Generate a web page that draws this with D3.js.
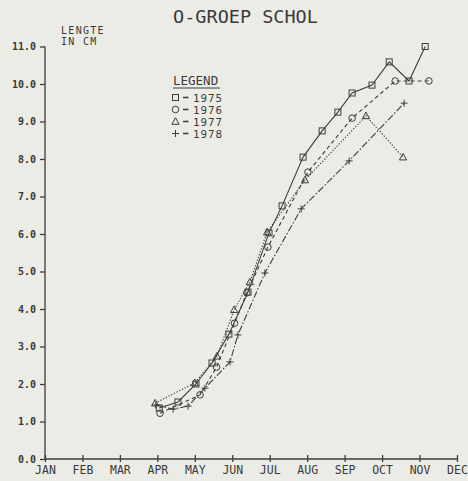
<!DOCTYPE html>
<html><head><meta charset="utf-8">
<script src="https://cdn.jsdelivr.net/npm/d3@7"></script>
<style>
html,body{margin:0;padding:0;background:#ecece6;}
svg{display:block;}
text{font-family:"DejaVu Sans Mono",monospace;fill:#3a3a3a;}
</style></head>
<body>
<script>
const months = ["JAN","FEB","MAR","APR","MAY","JUN","JUL","AUG","SEP","OCT","NOV","DEC"];
const yTicks = [0,1,2,3,4,5,6,7,8,9,10,11];
const years = ["1975","1976","1977","1978"];
// month position (JAN = 0) and length in cm
const m1975 = [3.05,3.55,4.03,4.46,4.91,5.42,5.98,6.33,6.89,7.40,7.82,8.20,8.73,9.19,9.72,10.15];
const v1975 = [1.36,1.52,2.00,2.56,3.33,4.45,6.03,6.75,8.05,8.75,9.25,9.76,9.97,10.59,10.08,11.00];
const m1976 = [3.07,4.14,4.58,5.06,5.39,5.95,7.02,8.20,9.35,10.25];
const v1976 = [1.22,1.71,2.45,3.62,4.43,5.65,7.65,9.09,10.08,10.08];
const m1977 = [2.94,4.00,4.59,5.05,5.47,5.93,6.94,8.57,9.56];
const v1977 = [1.49,2.03,2.74,3.98,4.72,6.05,7.44,9.15,8.05];
const m1978 = [2.96,3.42,3.82,4.27,4.94,5.15,5.87,6.84,8.12,9.59];
const v1978 = [1.44,1.33,1.41,1.89,2.59,3.31,4.96,6.67,7.95,9.49];

const W=468,H=481;
const svg=d3.select("body").append("svg").attr("width",W).attr("height",H);
const x=d3.scaleLinear().domain([0,11]).range([45,457]);
const y=d3.scaleLinear().domain([0,11]).range([459,46.5]);
const ink="#3c3c3c";

// axes
const yAxis=d3.axisLeft(y).tickValues(yTicks).tickSize(5).tickFormat(d=>d.toFixed(1));
const gy=svg.append("g").attr("transform","translate(45,0)").call(yAxis);
gy.select(".domain").attr("stroke",ink).attr("stroke-width",1.3).attr("d","M0,"+y(11)+"V"+y(0));
gy.selectAll(".tick line").attr("stroke",ink).attr("stroke-width",1.3);
gy.selectAll(".tick text").attr("x",-9).attr("font-size",10).attr("font-weight","bold").attr("fill","#444");

const xAxis=d3.axisBottom(x).tickValues(d3.range(12)).tickSize(-4).tickFormat(i=>months[i]);
const gx=svg.append("g").attr("transform","translate(0,459)").call(xAxis);
gx.select(".domain").attr("stroke",ink).attr("stroke-width",1.3).attr("d","M"+x(0)+",0H"+x(11));
gx.selectAll(".tick line").attr("stroke",ink).attr("stroke-width",1.3).attr("y1",3);
gx.selectAll(".tick text").attr("y",7).attr("font-size",11.5).attr("fill","#444");

// titles
svg.append("text").attr("x",245.5).attr("y",23).attr("text-anchor","middle").attr("font-size",18.5).attr("fill","#5a5a5a").text("O-GROEP SCHOL");
svg.append("text").attr("x",61).attr("y",34).attr("font-size",10).attr("letter-spacing",1.3).attr("fill","#444").text("LENGTE");
svg.append("text").attr("x",61).attr("y",45).attr("font-size",10).attr("letter-spacing",1.3).attr("fill","#444").text("IN CM");

// markers
function marker(g,type,cx,cy){
  const s=g.append("g").attr("transform",`translate(${cx},${cy})`).attr("fill","none").attr("stroke",ink).attr("stroke-width",1);
  if(type==="square") s.append("rect").attr("x",-3).attr("y",-3).attr("width",6).attr("height",6);
  else if(type==="circle") s.append("circle").attr("r",3.3);
  else if(type==="triangle") s.append("path").attr("d","M0,-3.8L3.6,2.8L-3.6,2.8Z");
  else s.append("path").attr("d","M-3.5,0H3.5M0,-3.5V3.5");
}

const series=[
  {m:m1975,v:v1975,type:"square",dash:null},
  {m:m1976,v:v1976,type:"circle",dash:"4,3"},
  {m:m1977,v:v1977,type:"triangle",dash:"1.3,1.7"},
  {m:m1978,v:v1978,type:"plus",dash:"7,2,1.5,2"}
];
const line=d3.line().x(d=>x(d[0])).y(d=>y(d[1]));
series.forEach(s=>{
  const pts=s.m.map((mm,i)=>[mm,s.v[i]]);
  svg.append("path").attr("d",line(pts)).attr("fill","none").attr("stroke",ink).attr("stroke-width",1.1)
    .attr("stroke-dasharray",s.dash);
  const g=svg.append("g");
  pts.forEach(p=>marker(g,s.type,x(p[0]),y(p[1])));
});

// legend
svg.append("text").attr("x",173).attr("y",85).attr("font-size",12.5).attr("fill","#444").text("LEGEND");
svg.append("line").attr("x1",173).attr("x2",220).attr("y1",88).attr("y2",88).attr("stroke",ink).attr("stroke-width",1);
years.forEach((yr,i)=>{
  const ly=97.5+i*12;
  const g=svg.append("g");
  marker(g,series[i].type,175.5,ly);
  svg.append("line").attr("x1",183).attr("x2",188.5).attr("y1",ly).attr("y2",ly).attr("stroke","#444").attr("stroke-width",1.6);
  svg.append("text").attr("x",193).attr("y",ly+4).attr("font-size",10.8).attr("letter-spacing",1).attr("fill","#444").text(yr);
});
</script>
</body></html>
